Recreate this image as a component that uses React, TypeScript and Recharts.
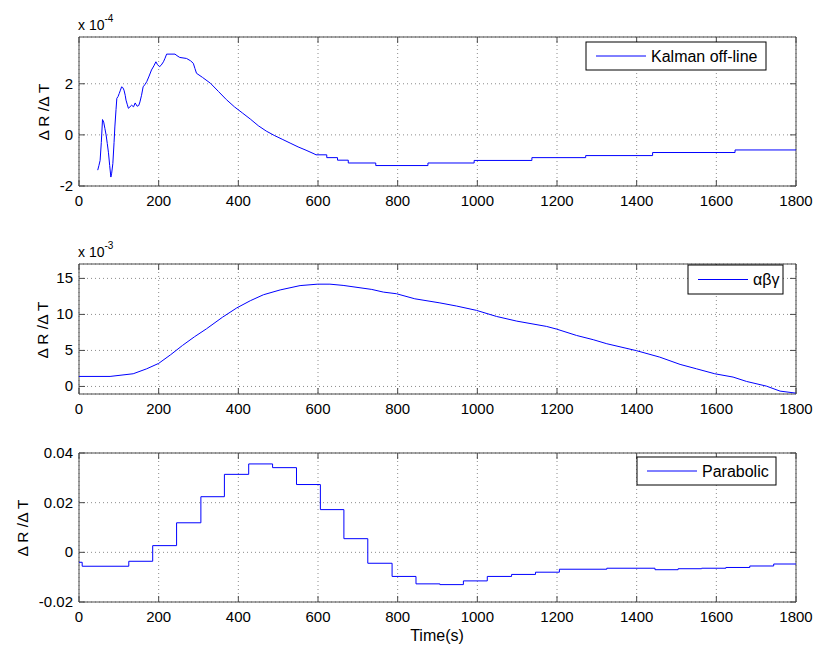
import React from 'react';
import { LineChart, Line, XAxis, YAxis, CartesianGrid, ReferenceArea } from 'recharts';

// ---------- data ----------
// shared time axis (seconds)
const timeTicks = [0, 200, 400, 600, 800, 1000, 1200, 1400, 1600, 1800];

// Kalman off-line estimate, values in units of 1e-4
const kalmanTime = [
  47, 50, 53, 56, 59, 62, 65, 68, 71, 74, 77, 80, 82, 85, 88, 90, 93, 95, 98, 101,
  104, 107, 110, 113, 116, 118, 121, 124, 128, 132, 137, 141, 146, 150, 153, 157, 161, 166, 170, 176,
  182, 188, 193, 197, 202, 206, 212, 216, 220, 241, 246, 253, 270, 280, 287, 291, 295, 310, 330, 350,
  370, 390, 410, 430, 450, 470, 490, 510, 530, 550, 570, 590, 595, 622, 622, 649, 649, 676, 676, 745,
  745, 876, 876, 992, 992, 1137, 1137, 1272, 1272, 1440, 1440, 1647, 1647, 1800,
];
const kalmanRate = [
  -1.38, -1.2, -1.0, -0.3, 0.6, 0.5, 0.25, 0.0, -0.34, -0.7, -1.2, -1.65, -1.5, -1.12, -0.3, 0.31, 1.0, 1.43, 1.5, 1.62,
  1.75, 1.88, 1.85, 1.75, 1.55, 1.36, 1.2, 1.04, 1.1, 1.16, 1.1, 1.25, 1.12, 1.15, 1.29, 1.55, 1.88, 1.98, 2.08, 2.3,
  2.54, 2.7, 2.86, 2.75, 2.67, 2.72, 2.86, 3.0, 3.16, 3.16, 3.1, 3.03, 2.99, 2.9, 2.8, 2.6, 2.41, 2.25, 2.02, 1.7,
  1.38, 1.1, 0.86, 0.62, 0.36, 0.15, -0.02, -0.17, -0.32, -0.47, -0.6, -0.74, -0.78, -0.78, -0.89, -0.89, -0.99, -0.99, -1.1, -1.1,
  -1.2, -1.2, -1.1, -1.1, -1.0, -1.0, -0.89, -0.89, -0.81, -0.81, -0.69, -0.69, -0.59, -0.59,
];

// alpha-beta-gamma filter estimate, values in units of 1e-3
const abgTime = [
  0, 78, 136, 170, 200, 230, 260, 290, 320, 360, 396, 430, 463, 505, 555, 599, 630, 663, 735, 764,
  797, 843, 906, 948, 998, 1048, 1099, 1174, 1199, 1249, 1291, 1325, 1400, 1458, 1509, 1550, 1596, 1642, 1676, 1726,
  1760, 1800,
];
const abgRate = [
  1.39, 1.39, 1.76, 2.45, 3.2, 4.4, 5.7, 6.9, 8.0, 9.6, 10.9, 11.9, 12.73, 13.4, 14.0, 14.2, 14.2, 14.03, 13.47, 13.1,
  12.87, 12.17, 11.6, 11.16, 10.56, 9.72, 9.07, 8.33, 7.96, 7.08, 6.49, 5.93, 4.96, 4.07, 3.06, 2.45, 1.76, 1.3, 0.69, 0.04,
  -0.65, -0.93,
];

// parabolic fit estimate (piecewise constant)
const paraTime = [
  0, 8, 125, 185, 245, 306, 365, 426, 486, 546, 606, 665, 725, 786, 846, 906, 965, 1025, 1086, 1146,
  1206, 1325, 1446, 1504, 1563, 1624, 1684, 1744, 1800,
];
const paraRate = [
  -0.004, -0.0056, -0.0036, 0.0027, 0.0119, 0.0224, 0.0314, 0.0356, 0.0341, 0.0273, 0.0172, 0.0055, -0.0044, -0.0097, -0.0127, -0.013, -0.0115, -0.0097, -0.0089, -0.008,
  -0.0068, -0.0064, -0.007, -0.0066, -0.0064, -0.0061, -0.0055, -0.0047, -0.0047,
];

const kalmanTicks = [-2, 0, 2];
const abgTicks = [0, 5, 10, 15];
const paraTicks = [-0.02, 0, 0.02, 0.04];

// ---------- styling ----------
const FONT = '"Liberation Sans", Arial, Helvetica, sans-serif';
const BOX = '#4a4a4a';
const GRID = '#8c8c8c';
const BLUE = '#0000ff';
const TICK_LEN = 6;
const CHART_W = 815;
const PLOT_LEFT = 79;
const PLOT_RIGHT = 796;
const PLOT_W = PLOT_RIGHT - PLOT_LEFT;
const X_AXIS_H = 20;

const toRows = (ts: number[], vs: number[]) => ts.map((t, i) => ({ t, v: vs[i] }));

const makeXTick = (plotH: number) => (props: any) => {
  const { x, y, payload } = props;
  return (
    <g>
      <line x1={x} y1={y} x2={x} y2={y - TICK_LEN} stroke={BOX} />
      <line x1={x} y1={y - plotH} x2={x} y2={y - plotH + TICK_LEN} stroke={BOX} />
      <text x={x} y={y + 20} textAnchor="middle" fontSize={15} fontFamily={FONT} fill="#000">
        {String(payload.value)}
      </text>
    </g>
  );
};

const makeYTick = () => (props: any) => {
  const { x, y, payload } = props;
  return (
    <g>
      <line x1={x} y1={y} x2={x + TICK_LEN} y2={y} stroke={BOX} />
      <line x1={x + PLOT_W} y1={y} x2={x + PLOT_W - TICK_LEN} y2={y} stroke={BOX} />
      <text x={x - 6} y={y + 5} textAnchor="end" fontSize={15} fontFamily={FONT} fill="#000">
        {String(payload.value)}
      </text>
    </g>
  );
};

type PanelProps = {
  top: number;
  height: number;
  marginTop: number;
  marginBottom: number;
  rows: { t: number; v: number }[];
  yDomain: [number, number];
  yTicks: number[];
  lineType: 'linear' | 'stepAfter';
};

function Panel({ top, height, marginTop, marginBottom, rows, yDomain, yTicks, lineType }: PanelProps) {
  const plotH = height - marginTop - marginBottom - X_AXIS_H;
  return (
    <div style={{ position: 'absolute', left: 0, top }}>
      <LineChart
        width={CHART_W}
        height={height}
        data={rows}
        margin={{ top: marginTop, right: CHART_W - PLOT_RIGHT, bottom: marginBottom, left: 0 }}
      >
        <CartesianGrid stroke={GRID} strokeDasharray="1 3" />
        <XAxis
          dataKey="t"
          type="number"
          domain={[0, 1800]}
          ticks={timeTicks}
          interval={0}
          height={X_AXIS_H}
          axisLine={false}
          tickLine={false}
          tickSize={0}
          tickMargin={0}
          tick={makeXTick(plotH)}
          allowDataOverflow
        />
        <YAxis
          type="number"
          domain={yDomain}
          ticks={yTicks}
          interval={0}
          width={PLOT_LEFT}
          axisLine={false}
          tickLine={false}
          tickSize={0}
          tickMargin={0}
          tick={makeYTick()}
          allowDataOverflow
        />
        <ReferenceArea
          x1={0}
          x2={1800}
          y1={yDomain[0]}
          y2={yDomain[1]}
          fill="none"
          fillOpacity={0}
          stroke={BOX}
          strokeWidth={1}
        />
        <Line
          dataKey="v"
          type={lineType}
          stroke={BLUE}
          strokeWidth={1}
          dot={false}
          activeDot={false}
          isAnimationActive={false}
        />
      </LineChart>
    </div>
  );
}

function LegendBox({ x, y, w, h, label }: { x: number; y: number; w: number; h: number; label: string }) {
  const cy = y + h / 2;
  return (
    <g>
      <rect x={x} y={y} width={w} height={h} fill="#fff" stroke="#000" strokeWidth={1} />
      <line x1={x + 10} y1={cy} x2={x + 60} y2={cy} stroke={BLUE} strokeWidth={1} />
      <text x={x + 65} y={cy + 5.5} fontSize={16} fontFamily={FONT} fill="#000">
        {label}
      </text>
    </g>
  );
}

function YLabel({ x, y }: { x: number; y: number }) {
  return (
    <text
      x={x}
      y={y}
      transform={`rotate(-90 ${x} ${y})`}
      textAnchor="middle"
      fontSize={15.5}
      fontFamily={FONT}
      fill="#000"
    >
      Δ R /Δ T
    </text>
  );
}

function Exponent({ x, y, power }: { x: number; y: number; power: string }) {
  return (
    <text x={x} y={y} fontSize={14} fontFamily={FONT} fill="#000">
      x 10
      <tspan dy={-8} fontSize={10}>
        {power}
      </tspan>
    </text>
  );
}

export default function App() {
  return (
    <div style={{ position: 'absolute', left: 0, top: 0, width: 815, height: 646, background: '#fff' }}>
      <Panel
        top={0}
        height={215}
        marginTop={37}
        marginBottom={9}
        rows={toRows(kalmanTime, kalmanRate)}
        yDomain={[-2, 3.83]}
        yTicks={kalmanTicks}
        lineType="linear"
      />
      <Panel
        top={215}
        height={215}
        marginTop={49}
        marginBottom={16}
        rows={toRows(abgTime, abgRate)}
        yDomain={[-1.05, 17]}
        yTicks={abgTicks}
        lineType="linear"
      />
      <Panel
        top={430}
        height={216}
        marginTop={23}
        marginBottom={24}
        rows={toRows(paraTime, paraRate)}
        yDomain={[-0.02, 0.04]}
        yTicks={paraTicks}
        lineType="stepAfter"
      />
      <svg
        width={815}
        height={646}
        style={{ position: 'absolute', left: 0, top: 0, pointerEvents: 'none' }}
      >
        <Exponent x={78} y={30} power="-4" />
        <Exponent x={78} y={257} power="-3" />
        <YLabel x={49} y={112} />
        <YLabel x={48} y={330} />
        <YLabel x={28} y={528} />
        <text x={437} y={641} textAnchor="middle" fontSize={16} fontFamily={FONT} fill="#000">
          Time(s)
        </text>
        <LegendBox x={586} y={42} w={180} h={28} label="Kalman off-line" />
        <LegendBox x={688} y={265} w={95} h={29} label="αβγ" />
        <LegendBox x={637} y={457} w={139} h={28} label="Parabolic" />
      </svg>
    </div>
  );
}
